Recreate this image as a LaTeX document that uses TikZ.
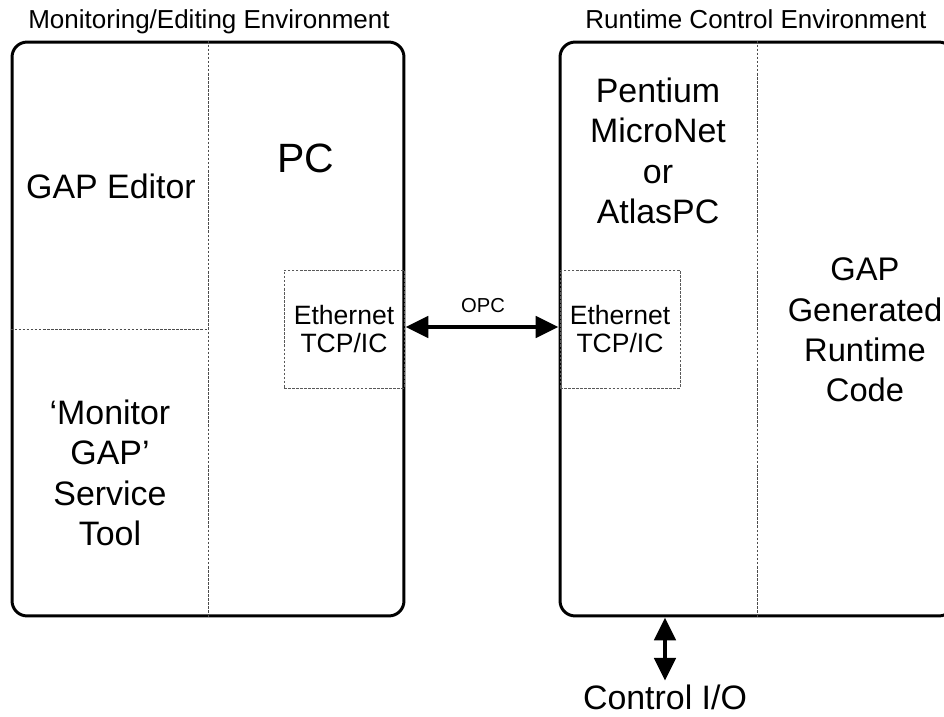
\documentclass[tikz,border=0pt]{standalone}
\usepackage{fontspec}
\setmainfont{Liberation Sans}
\usetikzlibrary{arrows.meta,positioning}

\begin{document}
\begin{tikzpicture}[x=0.02cm,y=-0.02cm,
	env box/.style = {draw, line width=1.7pt, rounded corners=0.3cm, inner sep=0pt},
	eth box/.style = {draw, dash pattern=on 1.5pt off 0.8pt, line width=0.5pt, gray!70!black,
		minimum width=2.4cm, minimum height=2.36cm, inner sep=0pt},
	div line/.style = {draw, dash pattern=on 1.5pt off 0.8pt, line width=0.5pt, gray!60!black},
	big text/.style = {align=center, font=\fontsize{19.3}{23}\selectfont, inner sep=0pt},
	small text/.style = {align=center, font=\fontsize{15.1}{16}\selectfont, inner sep=0pt},
	title text/.style = {font=\fontsize{14.8}{17}\selectfont, inner sep=0pt, anchor=base},
	dbl arrow/.style = {{Triangle[length=13pt,width=12pt]}-{Triangle[length=13pt,width=12pt]}, line width=2.6pt}]

	\useasboundingbox (0,0) rectangle (944,717);

	% the two environments
	\node[env box, minimum width=7.84cm, minimum height=11.48cm] (monenv) at (208,329) {};
	\node[env box, minimum width=7.88cm, minimum height=11.48cm] (runenv) at (757,329) {};
	\node[title text] (montitle) at (209,28) {Monitoring/Editing Environment};
	\node[title text] (runtitle) at (756,28) {Runtime Control Environment};

	% dividers
	\path[div line] (monenv.north) -- (monenv.south);
	\path[div line] (monenv.west) -- (monenv.center);
	\path[div line] (runenv.north) -- (runenv.south);

	% ethernet cards
	\node[eth box] (ethmon) at (344,329) {};
	\node[eth box] (ethrun) at (620,329) {};
	\node[small text] at (ethmon) {Ethernet\\TCP/IC};
	\node[small text] at (ethrun) {Ethernet\\TCP/IC};

	% labels
	\node[big text] (editor) at (111,186) {GAP Editor};
	\node[align=center, font=\fontsize{23.3}{28}\selectfont, inner sep=0pt] (pc) at (306,158) {PC};
	\node[big text] (monitor) at (110,473) {`Monitor\\GAP'\\Service\\Tool};
	\node[big text] (pentium) at (658,151) {Pentium\\MicroNet\\or\\AtlasPC};
	\node[big text, font=\fontsize{18.6}{23}\selectfont] (gapcode) at (865,330) {GAP\\Generated\\Runtime\\Code};
	\node[big text] (ctrl) at (665,697) {Control I/O};
	\node[font=\fontsize{11.5}{13}\selectfont, inner sep=0pt] (opc) at (483,306) {OPC};

	% connections
	\draw[dbl arrow] (monenv.east |- 0,327) -- (runenv.west |- 0,327);
	\draw[dbl arrow] (ctrl.north |- runenv.south) -- ([yshift=2pt]ctrl.north);

\end{tikzpicture}
\end{document}
